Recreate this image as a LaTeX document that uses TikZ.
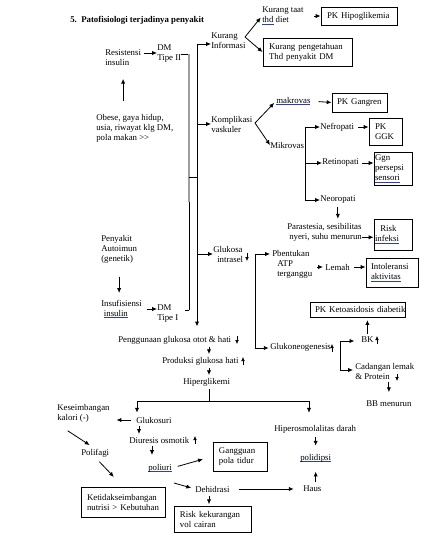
\documentclass[tikz,border=0pt]{standalone}
\usepackage{fontspec}
\setmainfont{Liberation Serif}
\usetikzlibrary{arrows.meta}
\definecolor{splblue}{RGB}{40,60,200}
\newcommand\fs{\fontsize{6.6}{7.5}\selectfont}
\newsavebox\splbox
\newcommand\spl[1]{\leavevmode\sbox\splbox{#1}\hbox{\rlap{\color{splblue}\rule[-1.5pt]{\wd\splbox}{0.5pt}}\usebox\splbox}}
\begin{document}
\begin{tikzpicture}[x=0.75pt,y=-0.75pt,
 txt/.style={inner sep=0pt, align=left, font=\fs, anchor=west},
 bx/.style={draw, line width=0.7pt, inner ysep=0pt, align=left, font=\fs},
 arr/.style={line width=0.6pt, -{Latex[length=3.6pt,width=3.2pt]}},
 ln/.style={line width=0.6pt},
 gly/.style={line width=0.5pt, -{Latex[length=3pt,width=2.8pt]}}]
\fill[white] (0,0) rectangle (430,544);
\useasboundingbox (0,0) rectangle (430,544);

% ---------- nodes ----------
\node[txt, font=\fs\bfseries] (title) at (70,20) {5.\ \ Patofisiologi terjadinya penyakit};
\node[txt] (res) at (105,58) {Resistensi\\insulin};
\node[txt] (dm2) at (157,54) {DM\\Tipe II};
\node[txt] (obese) at (96,128) {Obese, gaya hidup,\\usia, riwayat klg DM,\\pola makan >{}>};
\node[txt] (kinf) at (211,41) {Kurang\\Informasi};
\node[txt] (ktaat) at (262,16) {Kurang taat\\\spl{thd} diet};
\node[bx, inner xsep=4.5pt, text width=48pt, minimum height=13.5pt] (hipo) at (359,16) {\mbox{PK Hipoglikemia}};
\node[bx, inner xsep=4.5pt, text width=57.75pt, minimum height=21pt] (kpeng) at (307.5,52) {\mbox{Kurang pengetahuan}\\\mbox{Thd penyakit DM}};

\node[txt] (kompl) at (211,124) {Komplikasi\\vaskuler};
\node[txt] (makro) at (276,101) {\spl{makrovas}};
\node[txt] (mikro) at (270,145) {Mikrovas};
\node[bx, inner xsep=3.75pt, text width=33.75pt, minimum height=14.25pt] (gangren) at (359.5,102.5) {\mbox{PK Gangren}};
\node[txt] (nefro) at (320,127) {Nefropati};
\node[bx, inner xsep=4.5pt, text width=15.75pt, minimum height=20.25pt] (ggk) at (385.5,131.5) {PK\\GGK};
\node[txt] (retino) at (322,163) {Retinopati};
\node[bx, inner xsep=0.75pt, text width=27pt, minimum height=24.75pt] (ggn) at (393,168.5) {Ggn\\persepsi\\\spl{sensori}};
\node[txt] (neoro) at (320,200) {Neoropati};
\node[txt] (paras) at (287,232) {Parastesia, sesibilitas\\\hspace*{1.5pt}nyeri, suhu menurun};
\node[bx, inner xsep=0.75pt, text width=27pt, minimum height=23.25pt] (risk) at (393,234.5) {\hspace*{4pt}Risk\\\spl{infeksi}};

\node[txt] (gluk) at (213,254) {Glukosa\\\hspace*{3pt}intrasel};
\node[txt] (pbent) at (272,264.5) {Pbentukan\\\hspace*{3.75pt}ATP\\\hspace*{3.75pt}terganggu};
\node[txt] (lemah) at (325,267) {Lemah};
\node[bx, inner xsep=3.75pt, text width=31.5pt, minimum height=21.75pt] (intol) at (392,272.5) {Intoleransi\\\spl{aktivitas}};
\node[bx, inner xsep=3.75pt, text width=63.75pt, minimum height=11.25pt] (keto) at (357.5,309.5) {\mbox{PK Ketoasidosis diabetik}};
\node[txt] (bk) at (361,340) {BK};
\node[txt] (glukoneo) at (270,347) {Glukoneogenesis};
\node[txt] (cadangan) at (355,371.5) {Cadangan lemak\\\& Protein};
\node[txt] (bb) at (366,404) {BB menurun};

\node[txt] (autoimun) at (101,249) {Penyakit\\Autoimun\\(genetik)};
\node[txt] (insuf) at (101,309) {Insufisiensi\\\hspace*{2pt}\spl{insulin}};
\node[txt] (dm1) at (157,313.5) {DM\\Tipe I};
\node[txt] (peng) at (118,340) {Penggunaan glukosa otot \& hati};
\node[txt] (prod) at (162,361) {Produksi glukosa hati};
\node[txt] (hiper) at (183,382) {Hiperglikemi};
\node[txt] (kesei) at (57,413.5) {Keseimbangan\\kalori (-)};
\node[txt] (glukosuri) at (136,420) {Glukosuri};
\node[txt] (diuresis) at (129,440) {Diuresis osmotik};
\node[txt] (poliuri) at (148,468) {\spl{poliuri}};
\node[txt] (polifagi) at (81,453) {Polifagi};
\node[bx, inner xsep=4.5pt, text width=31.5pt, minimum height=21.75pt] (gangguan) at (240,456.5) {Gangguan\\\mbox{pola tidur}};
\node[bx, inner xsep=4.5pt, text width=54pt, minimum height=22.5pt] (ketidak) at (123,502) {Ketidakseimbangan\\\mbox{nutrisi > Kebutuhan}};
\node[bx, inner xsep=4.5pt, text width=48.75pt, minimum height=19.5pt] (riskvol) at (212.5,519) {\mbox{Risk kekurangan}\\\mbox{vol cairan}};
\node[txt] (dehid) at (195,489) {Dehidrasi};
\node[txt] (haus) at (303,489) {Haus};
\node[txt] (hiperos) at (274,429) {Hiperosmolalitas darah};
\node[txt] (polidipsi) at (300,458) {\spl{polidipsi}};

% ---------- coordinates ----------
\coordinate (b1a) at (189,54);
\coordinate (b1g) at (189,202);
\coordinate (b1m) at (189,177);
\coordinate (b1b) at (189,310);
\coordinate (b2a) at (197,44);
\coordinate (kb) at (245,37);
\coordinate (vb) at (255,123);
\coordinate (mx) at (305,145);
\coordinate (pe) at ([yshift=3pt]paras.south east);
\coordinate (g1) at (255,254);
\coordinate (g2) at (255,348);
\coordinate (kr1) at (340,341);
\coordinate (kr2) at (340,370);
\coordinate (cx) at (209,401);
\coordinate (hl) at (137,401);
\coordinate (hr) at (309,401);
\coordinate (ax) at (139,430);
\coordinate (px1) at (152,450);

% ---------- connectors ----------
\draw[ln] (dm2.east) -- (b1a);
\draw[line width=1.2pt, gray!75] (b1a) -- (b1g);
\draw[ln] (b1g) -- (b1b);
\draw[ln, shorten >=5pt] (b1b) -- (b1b -| dm1.east);
\draw[ln] (b1m) -- (b1m -| b2a);

\draw[arr, shorten >=7pt] (b2a) -- (b2a |- peng.north);
\draw[arr] (b2a) -- (b2a -| kinf.west);
\draw[arr] (b2a |- kompl.west) -- (kompl.west);
\draw[arr] (b2a |- gluk.west) -- (gluk.west);

\draw[arr, shorten <=9.5pt, shorten >=9.5pt] (obese.north -| res.south) -- (res.south);
\draw[arr, shorten <=2pt] ([yshift=3.75pt]res.east) -- ([yshift=3.75pt]res.east -| dm2.west);

\draw[arr, shorten >=1.5pt] (kb) -- (ktaat.west);
\draw[arr] (kb) -- (kpeng.west);
\draw[arr, shorten <=7.5pt] (ktaat.east) -- (hipo.west);

\draw[arr, shorten >=2pt] (vb) -- (makro.west);
\draw[arr] (vb) -- (mikro.west);
\draw[arr, shorten <=6pt] (makro.east) -- (gangren.west);

\draw[ln] (mx |- nefro.west) -- (mx |- neoro.west);
\draw[arr] (mx |- nefro.west) -- (nefro.west);
\draw[arr] (mx |- retino.west) -- (retino.west);
\draw[arr] (mx |- neoro.west) -- (neoro.west);
\draw[arr, shorten <=3pt] (nefro.east) -- (nefro.east -| ggk.west);
\draw[arr, shorten <=2pt] (retino.east) -- (retino.east -| ggn.west);
\draw[arr, shorten <=2pt, shorten >=3pt] (neoro.south) -- (neoro.south |- paras.north);
\draw[arr] (pe) -- (pe -| risk.west);

\draw[ln] (g1) -- (g2);
\draw[arr, shorten >=1.5pt] (g1) -- (g1 -| pbent.west);
\draw[arr, shorten >=1pt] (g2) -- (g2 -| glukoneo.west);
\draw[arr, shorten <=3.5pt, shorten >=1.5pt] (lemah.west -| pbent.east) -- (lemah.west);
\draw[arr, shorten <=3pt] (lemah.east) -- (lemah.east -| intol.west);

\draw[arr, shorten <=2.5pt, shorten >=2pt] (bk.north) -- (bk.north |- keto.south);
\draw[arr, shorten >=5pt] (kr2) -- (kr1) -- (kr1 -| bk.west);
\draw[arr, shorten >=1.5pt] (kr2) -- (kr2 -| cadangan.west);
\draw[arr, shorten <=1.5pt, shorten >=6.5pt] (bb.north |- cadangan.south) -- (bb.north);

\draw[arr, shorten <=10pt, shorten >=5pt] (autoimun.south) -- (autoimun.south |- insuf.north);
\draw[arr, shorten <=3.5pt] (insuf.east) -- (insuf.east -| dm1.west);

\draw[arr, shorten <=2pt, shorten >=2pt] (peng.south -| cx) -- (prod.north -| cx);
\draw[arr, shorten <=2pt, shorten >=2pt] (prod.south -| cx) -- (hiper.north -| cx);
\draw[ln, shorten <=2pt] (hiper.south -| cx) -- (cx);
\draw[ln] (hl) -- (hr);
\draw[arr, shorten >=3pt] (hl) -- (hl |- glukosuri.north);
\draw[arr, shorten >=9pt] (hr) -- (hr |- hiperos.north);

\draw[arr, shorten <=3.5pt, shorten >=5pt] (glukosuri.west) -- (glukosuri.west -| kesei.east);
\draw[arr, shorten <=2pt, shorten >=2pt] (glukosuri.south -| ax) -- (diuresis.north -| ax);
\draw[arr, shorten <=2pt, shorten >=6.5pt] (diuresis.south -| px1) -- (poliuri.north -| px1);
\draw[arr, shorten <=4.5pt, shorten >=7.5pt] (poliuri.east) -- (gangguan.west);
\draw[arr, shorten >=3pt] ([shift={(1.5pt,-8pt)}]poliuri.south east) -- (dehid.west);
\draw[arr, shorten <=7pt, shorten >=7pt] (dehid.east) -- (haus.west);
\draw[arr, shorten <=3pt, shorten >=1pt] (dehid.south -| cx) -- (riskvol.north -| cx);
\draw[arr, shorten <=3pt, shorten >=7pt] (haus.north -| polidipsi.south) -- (polidipsi.south);
\draw[arr, shorten <=3pt, shorten >=6pt] (hiperos.south -| polidipsi.north) -- (polidipsi.north);

\draw[arr, shorten >=5pt] ([shift={(8pt,-6pt)}]kesei.south west) -- (polifagi.north);
\draw[arr, shorten <=4.5pt, shorten >=10pt] (polifagi.south) -- (ketidak.north);

% ---------- small up/down marks ----------
\draw[gly] (247,253) -- (247,261);
\draw[gly] (237,336) -- (237,344);
\draw[gly] (243,365) -- (243,357);
\draw[gly] (332,352) -- (332,344);
\draw[gly] (377,344) -- (377,336);
\draw[gly] (397,374) -- (397,381);
\draw[gly] (195,444) -- (195,436);
\end{tikzpicture}
\end{document}
